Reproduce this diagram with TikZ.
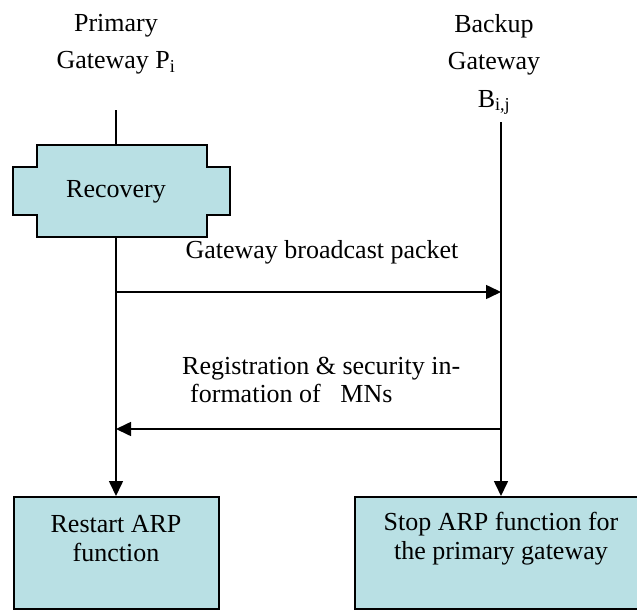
\documentclass[tikz,border=0pt]{standalone}
\usepackage{fontspec}
\setmainfont{Liberation Serif}
\usetikzlibrary{arrows.meta}
\definecolor{boxfill}{RGB}{185,224,228}
\tikzset{
  lbl/.style={font=\fontsize{26}{30}\selectfont, inner sep=0pt, align=center},
  hdr/.style={font=\fontsize{26}{37.5}\selectfont, inner sep=0pt, align=center, anchor=north},
  actbox/.style={draw=black, line width=1.6pt, fill=boxfill, inner sep=0pt, anchor=north west},
  life/.style={line width=1.6pt},
  msg/.style={line width=1.6pt, -{Triangle[length=15pt,width=14pt]}}
}
\begin{document}
\begin{tikzpicture}[x=1pt,y=-1pt]
\useasboundingbox (0,0) rectangle (637,610);
% headers
\node[hdr] (ph) at (116,14) {Primary\\Gateway P\textsubscript{i}};
\node[hdr] (bh) at (494,14) {Backup\\Gateway\\B\textsubscript{i,j}};
\coordinate (ptop) at (116,110);
\coordinate (btop) at (501,122);
% recovery shape
\draw[line width=1.6pt, fill=boxfill]
  (37,145) -- (207,145) -- (207,167) -- (230,167) -- (230,215) -- (207,215)
  -- (207,237) -- (37,237) -- (37,215) -- (13,215) -- (13,167) -- (37,167) -- cycle;
\coordinate (rtop) at (116,145);
\coordinate (rbot) at (116,237);
\node[lbl] (rec) at (116,192) {Recovery};
% bottom boxes
\node[actbox, minimum width=205pt, minimum height=112pt] (lb) at (13,496) {};
\node[actbox, minimum width=300pt, minimum height=112pt] (rb) at (354,496) {};
\node[lbl, font=\fontsize{26}{29}\selectfont] (lbt) at (116,539) {Restart ARP\\function};
\node[lbl, font=\fontsize{26}{29}\selectfont] (rbt) at (501,539) {Stop ARP function for\\the primary gateway};
\coordinate (lbtop) at (116,496);
\coordinate (rbtop) at (501,496);
% lifelines
\draw[life] (ptop) -- (rtop);
\draw[msg] (rbot) -- (lbtop);
\draw[msg] (btop) -- (rbtop);
% messages
\coordinate (m1a) at (116,292);
\coordinate (m1b) at (501,292);
\coordinate (m2a) at (501,429);
\coordinate (m2b) at (116,429);
\draw[msg] (m1a) -- (m1b);
\draw[msg] (m2a) -- (m2b);
\node[lbl] (t1) at (322,252) {Gateway broadcast packet};
\node[lbl, font=\fontsize{26}{28}\selectfont, align=left, anchor=west] (t2) at (182,380) {Registration \& security in-\\\hspace*{8pt}formation of \ \ MNs};
\end{tikzpicture}
\end{document}
